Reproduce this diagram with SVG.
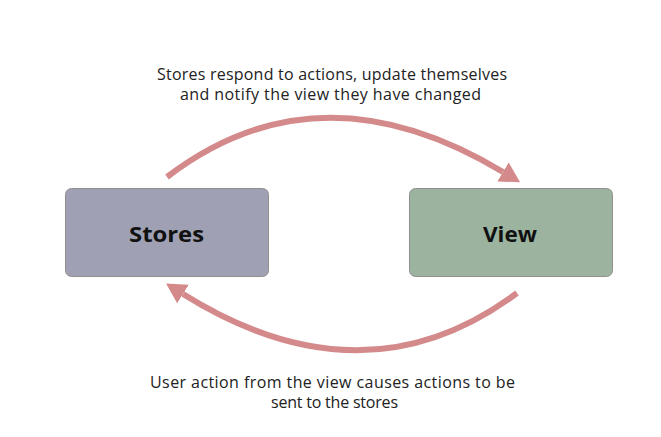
<svg xmlns="http://www.w3.org/2000/svg" width="661" height="437" viewBox="0 0 661 437">
<defs>
<style>
.node rect{stroke:#8f8f8f;stroke-width:1}
.lbl{font-family:"Open Sans",Lato,sans-serif;font-weight:bold;font-size:22px;fill:#111;text-anchor:middle}
.cap{font-family:"Open Sans",Lato,sans-serif;font-size:16px;fill:#222;text-anchor:middle}
.arc{fill:none;stroke:#d48a8a;stroke-width:6}
</style>
<marker id="ah" markerUnits="userSpaceOnUse" markerWidth="24" markerHeight="24" refX="0" refY="11" orient="auto" viewBox="0 0 24 22">
<path d="M0,0 L20,11 L0,22 Z" fill="#d48a8a"/>
</marker>
</defs>
<rect width="661" height="437" fill="#fff"/>
<g id="connectors">
<path class="arc" d="M167,177 Q319,61 503,172" marker-end="url(#ah)"/>
<path class="arc" d="M517,293 Q364,407 183,294" marker-end="url(#ah)"/>
</g>
<g id="stores" class="node">
<rect x="65.5" y="188.5" width="203" height="88" rx="6" fill="#9fa0b3"/>
<text class="lbl" x="166.5" y="242" textLength="75" lengthAdjust="spacingAndGlyphs">Stores</text>
</g>
<g id="view" class="node">
<rect x="409.5" y="188.5" width="203" height="88" rx="6" fill="#9cb3a0"/>
<text class="lbl" x="510" y="242" textLength="54" lengthAdjust="spacingAndGlyphs">View</text>
</g>
<g id="labels">
<text class="cap" x="332" y="80" textLength="350">Stores respond to actions, update themselves</text>
<text class="cap" x="330.5" y="100" textLength="301">and notify the view they have changed</text>
<text class="cap" x="332.5" y="388" textLength="365">User action from the view causes actions to be</text>
<text class="cap" x="334.5" y="408" textLength="127">sent to the stores</text>
</g>
</svg>
